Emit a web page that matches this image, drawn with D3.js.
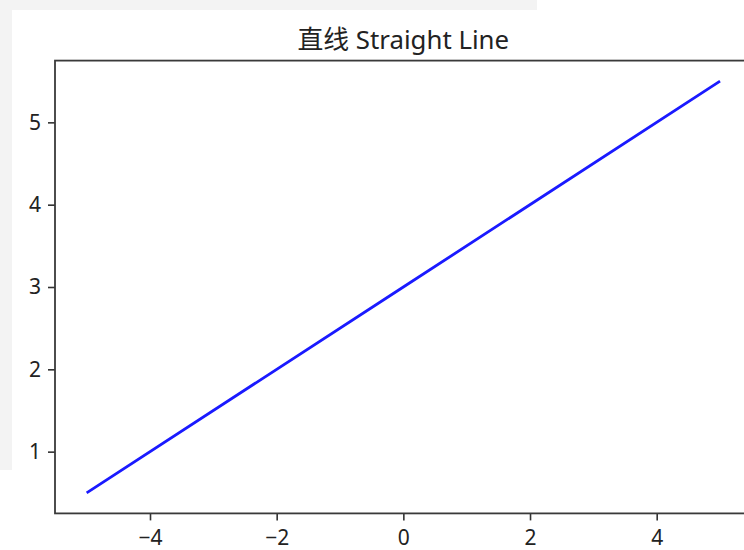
<!DOCTYPE html>
<html>
<head>
<meta charset="utf-8">
<script src="https://cdn.jsdelivr.net/npm/d3@7"></script>
<style>
  html, body { margin: 0; padding: 0; background: #ffffff; }
  svg { display: block; }
  text { font-family: "Noto Sans", "Noto Sans CJK SC", sans-serif; }
</style>
</head>
<body>
<script>
// ---- data ----
const title = "直线 Straight Line";
const xValues = [-5, 0, 5];
const yValues = [0.5, 3, 5.5];
const xTicks = [-4, -2, 0, 2, 4];
const yTicks = [1, 2, 3, 4, 5];
const xDomain = [-5.5, 5.5];
const yDomain = [0.25, 5.75];

const W = 744, H = 550;
const svg = d3.select("body").append("svg").attr("width", W).attr("height", H);

// background: gray window behind, white figure
svg.append("rect").attr("x", 0).attr("y", 0).attr("width", W).attr("height", H).attr("fill", "#ffffff");
svg.append("rect").attr("x", 0).attr("y", 0).attr("width", 537).attr("height", 470).attr("fill", "#f3f3f3");
svg.append("rect").attr("x", 12).attr("y", 10).attr("width", W - 12).attr("height", H - 10).attr("fill", "#ffffff");

const pLeft = 55, pRight = 751.7, pTop = 60.6, pBottom = 513.4;
const x = d3.scaleLinear().domain(xDomain).range([pLeft, pRight]);
const y = d3.scaleLinear().domain(yDomain).range([pBottom, pTop]);

// line
const pts = xValues.map((v, i) => [v, yValues[i]]);
svg.append("path")
  .datum(pts)
  .attr("fill", "none")
  .attr("stroke", "#1a1aff")
  .attr("stroke-width", 2.8)
  .attr("d", d3.line().x(d => x(d[0])).y(d => y(d[1])));

// axes
const fmt = d => (d < 0 ? "\u2212" + Math.abs(d) : String(d));
const xAxis = svg.append("g").attr("transform", `translate(0,${pBottom})`)
  .call(d3.axisBottom(x).tickValues(xTicks).tickFormat(fmt).tickSize(7).tickSizeOuter(0).tickPadding(10));
const yAxis = svg.append("g").attr("transform", `translate(${pLeft},0)`)
  .call(d3.axisLeft(y).tickValues(yTicks).tickFormat(fmt).tickSize(7).tickSizeOuter(0).tickPadding(7));

[xAxis, yAxis].forEach(g => {
  g.select(".domain").remove();
  g.selectAll(".tick line").attr("stroke", "#333").attr("stroke-width", 1.6);
  g.selectAll(".tick text").attr("fill", "#222").style("font-size", "21px").style("font-family", '"Noto Sans", "Noto Sans CJK SC", sans-serif');
});

// spines
svg.append("rect")
  .attr("x", pLeft).attr("y", pTop)
  .attr("width", pRight - pLeft).attr("height", pBottom - pTop)
  .attr("fill", "none").attr("stroke", "#3a3a3a").attr("stroke-width", 1.8);

// title
svg.append("text")
  .attr("x", (pLeft + pRight) / 2)
  .attr("y", 49)
  .attr("text-anchor", "middle")
  .attr("fill", "#222")
  .style("font-size", "25.8px")
  .text(title);
</script>
</body>
</html>
